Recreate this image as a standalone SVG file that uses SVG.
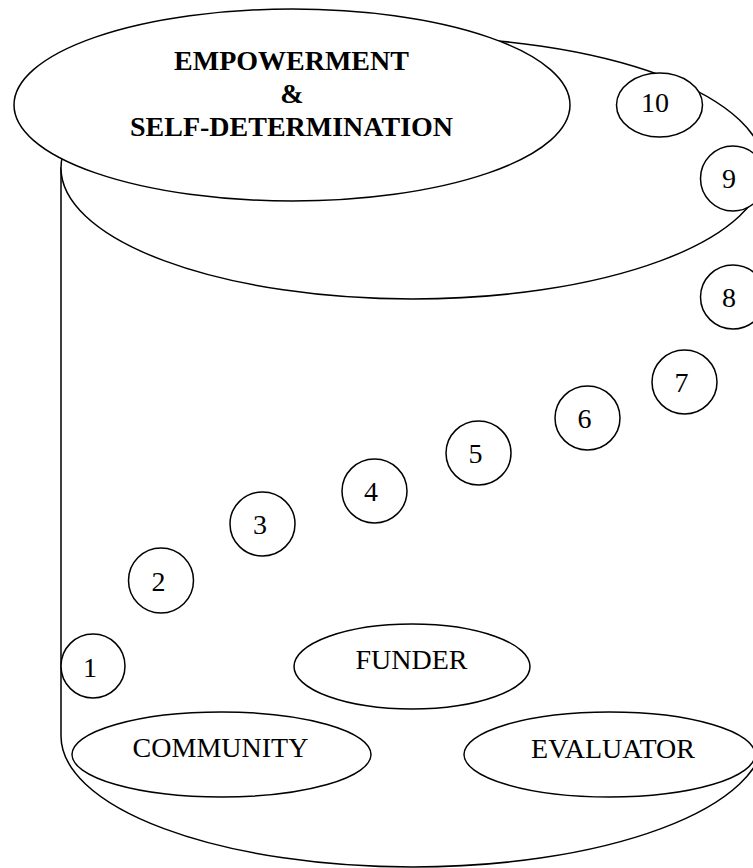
<svg xmlns="http://www.w3.org/2000/svg" width="753" height="868" viewBox="0 0 753 868">
<style>
.s{fill:#fff;stroke:#000;stroke-width:1.5}
.t{font-family:"Liberation Serif","Times New Roman",serif;font-size:28px;fill:#000;text-anchor:middle}
.b{font-weight:bold}
</style>
<rect width="753" height="868" fill="#fff"/>
<g id="cylinder">
<path class="s" d="M61,168 L61,736 A351.5,131 0 0 0 764,736 L764,168 Z"/>
<ellipse class="s" cx="412.5" cy="168" rx="351.5" ry="131"/>
</g>
<g id="connectors"/>
<g id="empowerment">
<ellipse class="s" cx="292" cy="105" rx="278" ry="96"/>
<text class="t b" x="291.5" y="70">EMPOWERMENT</text>
<text class="t b" x="292" y="103">&amp;</text>
<text class="t b" x="291.5" y="136">SELF-DETERMINATION</text>
</g>
<g id="step10"><ellipse class="s" cx="659.5" cy="105" rx="43" ry="32"/><text class="t" x="655" y="112">10</text></g>
<g id="step9"><ellipse class="s" cx="733" cy="178.5" rx="32.5" ry="32.5"/><text class="t" x="729" y="188">9</text></g>
<g id="step8"><ellipse class="s" cx="733" cy="297" rx="32.5" ry="32"/><text class="t" x="729" y="307">8</text></g>
<g id="step7"><ellipse class="s" cx="684.5" cy="382" rx="32.5" ry="32"/><text class="t" x="681.5" y="392">7</text></g>
<g id="step6"><ellipse class="s" cx="587.5" cy="418" rx="32.5" ry="32"/><text class="t" x="584.5" y="428">6</text></g>
<g id="step5"><ellipse class="s" cx="478.5" cy="453" rx="32.5" ry="32"/><text class="t" x="475.5" y="463">5</text></g>
<g id="step4"><ellipse class="s" cx="374.5" cy="491" rx="32.5" ry="32"/><text class="t" x="371" y="501">4</text></g>
<g id="step3"><ellipse class="s" cx="262.5" cy="524" rx="32.5" ry="32"/><text class="t" x="260" y="534">3</text></g>
<g id="step2"><ellipse class="s" cx="161" cy="580.5" rx="32.5" ry="32.5"/><text class="t" x="158.5" y="591">2</text></g>
<g id="step1"><ellipse class="s" cx="93" cy="666" rx="32" ry="32"/><text class="t" x="90" y="677">1</text></g>
<g id="funder"><ellipse class="s" cx="412" cy="666.5" rx="118" ry="42.5"/><text class="t" x="411.5" y="669">FUNDER</text></g>
<g id="community"><ellipse class="s" cx="221.5" cy="754.5" rx="149.5" ry="42.5"/><text class="t" x="220.5" y="757">COMMUNITY</text></g>
<g id="evaluator"><ellipse class="s" cx="609.5" cy="754.5" rx="145.5" ry="42.5"/><text class="t" x="613" y="758">EVALUATOR</text></g>
</svg>
